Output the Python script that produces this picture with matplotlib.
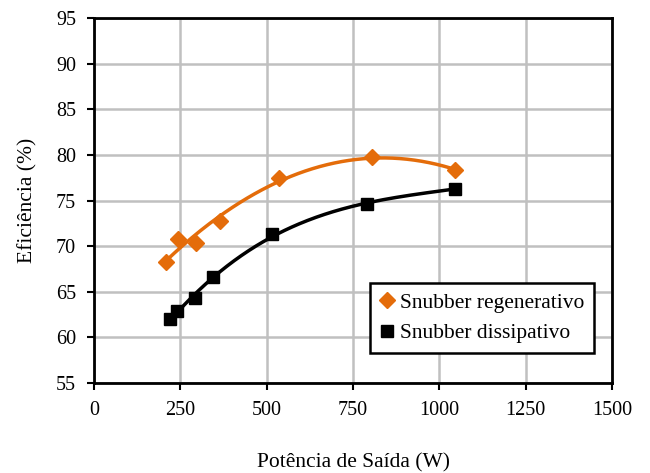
import numpy as np
import matplotlib
matplotlib.use("Agg")
import matplotlib.pyplot as plt

plt.rcParams['font.family'] = ['Liberation Serif', 'DejaVu Serif']

reg_x = [208, 244, 295, 365, 537, 804, 1045]
reg_y = [68.3, 70.8, 70.3, 72.8, 77.5, 79.8, 78.3]
dis_x = [220, 241, 293, 346, 515, 790, 1045]
dis_y = [62.0, 62.9, 64.3, 66.6, 71.3, 74.6, 76.3]

xticks = [0, 250, 500, 750, 1000, 1250, 1500]
yticks = [55, 60, 65, 70, 75, 80, 85, 90, 95]

orange = '#E46C0A'

fig = plt.figure(figsize=(6.5, 4.73), dpi=100)
ax = fig.add_axes([0.1446, 0.190, 0.797, 0.772])

for xs, ys, col, mk, ms, lab, deg in [
    (reg_x, reg_y, orange, 'D', 8, 'Snubber regenerativo', 2),
    (dis_x, dis_y, 'black', 's', 8.5, 'Snubber dissipativo', 3),
]:
    c = np.polyfit(xs, ys, deg)
    xx = np.linspace(min(xs), max(xs), 200)
    ax.plot(xx, np.polyval(c, xx), color=col, lw=2.5, zorder=3)
    ax.plot(xs, ys, linestyle='none', marker=mk, ms=ms, color=col, label=lab, zorder=4)

ax.set_xlim(0, 1500)
ax.set_ylim(55, 95)
ax.set_xticks(xticks)
ax.set_yticks(yticks)
ax.grid(True, color='#c0c0c0', lw=1.8)
ax.set_axisbelow(True)
for s in ax.spines.values():
    s.set_linewidth(2)
    s.set_color('black')
ax.tick_params(direction='out', length=5, width=1.5, labelsize=14.5, pad=8)
ax.set_xlabel('Potência de Saída (W)', fontsize=15.5, labelpad=24)
ax.set_ylabel('Eficiência (%)', fontsize=15.5, labelpad=13)

leg = ax.legend(loc='lower left', bbox_to_anchor=(0.532, 0.082), fontsize=15.5,
                frameon=True, fancybox=False, handlelength=0.7, handletextpad=0.25,
                borderpad=0.45, labelspacing=0.5, borderaxespad=0)
leg.get_frame().set_edgecolor('black')
leg.get_frame().set_linewidth(1.8)
leg.get_frame().set_alpha(1)

fig.savefig('out.png', dpi=100)
